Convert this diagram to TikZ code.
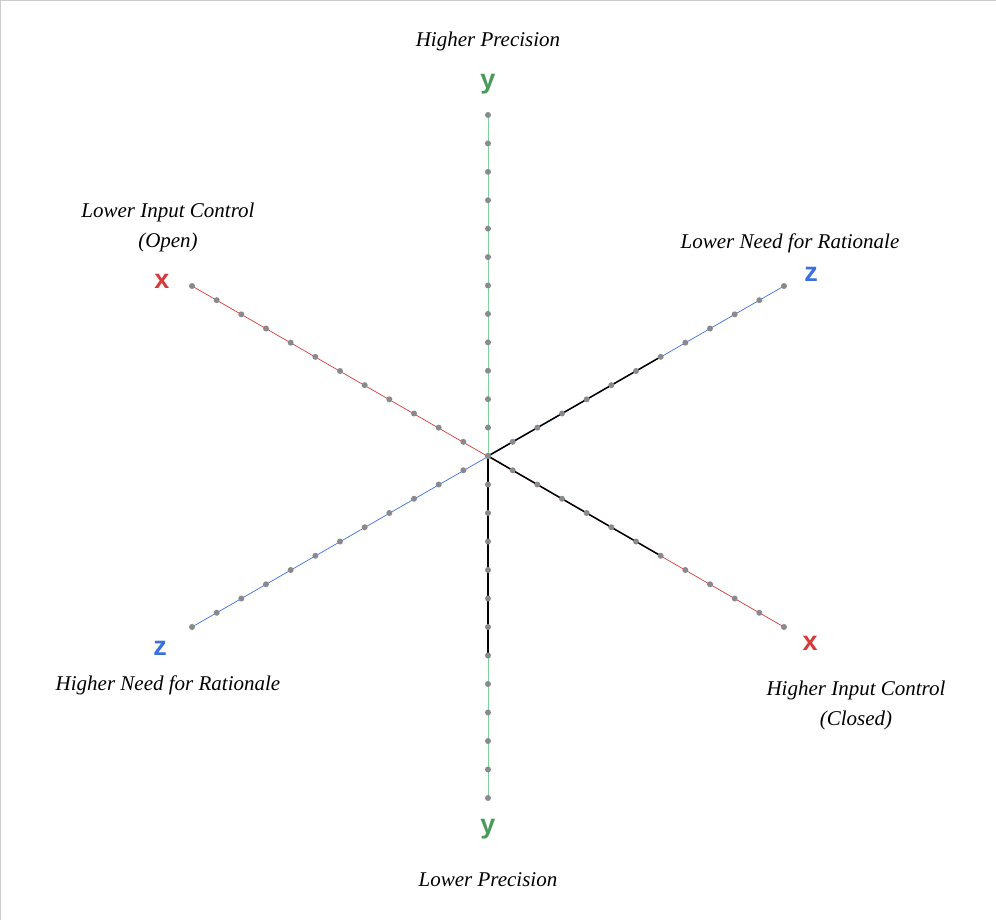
\documentclass[tikz,border=0pt]{standalone}
\usepackage{fontspec}
\usetikzlibrary{calc}
\setmainfont{Liberation Serif}
\newfontfamily\axfont{Liberation Sans}
\definecolor{xred}{HTML}{D63A3A}
\definecolor{ygreen}{HTML}{4A9A5A}
\definecolor{yline}{HTML}{7FD09A}
\definecolor{zblue}{HTML}{3B6FE0}
\definecolor{dotgray}{HTML}{8A8A8E}
\begin{document}
\begin{tikzpicture}[x=1pt,y=-1pt,
  lab/.style={font=\itshape\fontsize{21}{30}\selectfont, align=center},
  axl/.style={font=\axfont\bfseries\fontsize{27}{27}\selectfont},
  blk/.style={black, line width=1.5pt},
  dotst/.style={fill=dotgray}]
\useasboundingbox (0,0) rectangle (996,920);
\draw[gray!40, line width=1pt] (0,920) -- (0,0.5) -- (996,0.5);
\coordinate (o) at (488,456);
\coordinate (yp) at (488,115);
\coordinate (yn) at (488,798);
\coordinate (xn) at (192,286);
\coordinate (xp) at (784,627);
\coordinate (zp) at (784,286);
\coordinate (zn) at (192,627);
\draw[yline, line width=1pt] (yp) -- (yn);
\draw[xred, line width=0.7pt] (xn) -- (xp);
\draw[zblue, line width=0.7pt] (zn) -- (zp);
\draw[blk] (o) -- ($(o)!7/12!(zp)$);
\draw[blk] (o) -- ($(o)!7/12!(xp)$);
\draw[blk] (o) -- ($(o)!7/12!(yn)$);
\foreach \e in {yp,yn,xn,xp,zp,zn}{
  \foreach \k in {1,...,12}{
    \fill[dotst] ($(o)!\k/12!(\e)$) circle (3);
  }
}
\fill[dotst] (o) circle (3.2);
\node[lab] (t1) at (488,41) {Higher Precision};
\node[lab] (t2) at (488,880) {Lower Precision};
\node[lab] (t3) at (168,227) {Lower Input Control\\(Open)};
\node[lab] (t4) at (790,243) {Lower Need for Rationale};
\node[lab] (t5) at (168,685) {Higher Need for Rationale};
\node[lab] (t6) at (856,705) {Higher Input Control\\(Closed)};
\node[axl, ygreen] (ly1) at (488,84) {y};
\node[axl, ygreen] (ly2) at (488,829) {y};
\node[axl, xred] (lx1) at (162,281) {x};
\node[axl, xred] (lx2) at (810,643) {x};
\node[axl, zblue] (lz1) at (811,274) {z};
\node[axl, zblue] (lz2) at (160,648) {z};
\end{tikzpicture}
\end{document}
